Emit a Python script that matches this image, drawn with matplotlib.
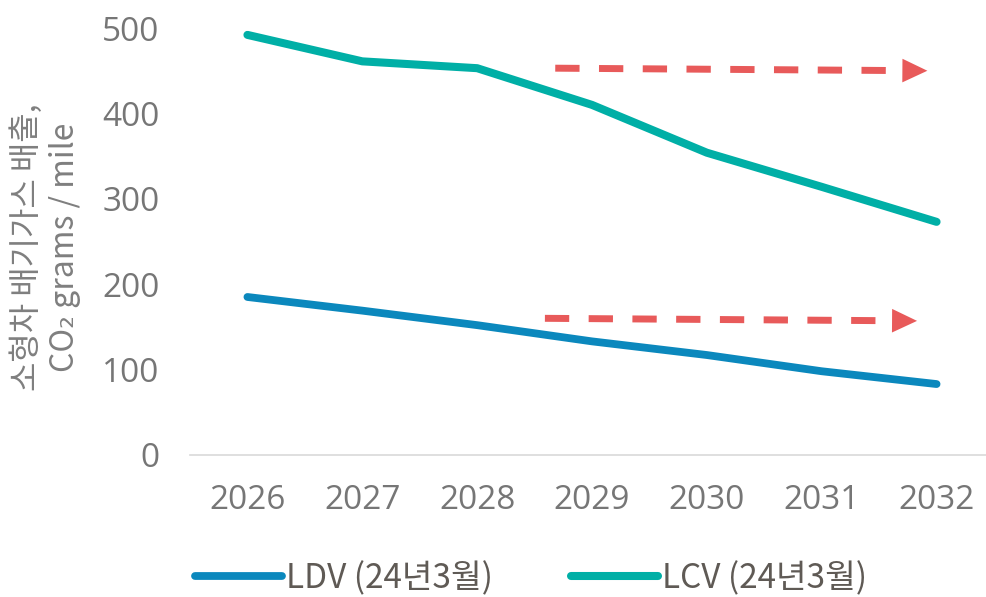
import numpy as np
import matplotlib.pyplot as plt

plt.rcParams['font.family'] = ['Noto Sans CJK KR', 'DejaVu Sans']

# data
years = [2026, 2027, 2028, 2029, 2030, 2031, 2032]
ldv = [185, 169, 152, 133, 117, 98, 83]
lcv = [492, 461, 453, 410, 354, 314, 273]
series_names = ['LDV (24년3월)', 'LCV (24년3월)']
series_colors = ['#0b88bd', '#00afa6']
yticks = [0, 100, 200, 300, 400, 500]

# dashed "stay flat" arrows: (x_start, y_start, x_tip, y_tip)
arrows = [(2028.68, 453, 2031.92, 450), (2028.59, 160, 2031.83, 157)]
arrow_color = '#e85a5a'

fig = plt.figure(figsize=(9.86, 5.97), dpi=100)
ax = fig.add_axes([190 / 986, 0.238, 804 / 986, 0.715])

x = np.arange(len(years))
x0 = years[0]
ax.plot(x, ldv, color=series_colors[0], lw=5.6, solid_capstyle='round',
        label=series_names[0], clip_on=False)
ax.plot(x, lcv, color=series_colors[1], lw=5.8, solid_capstyle='round',
        label=series_names[1], clip_on=False)

head = 0.2  # head length in data units
for xs, ys, xt, yt in arrows:
    xb = xt - head
    yb = yt + head * (ys - yt) / (xt - xs)
    ax.plot([xs - x0, xb - x0 - 0.02], [ys, yb], color=arrow_color, lw=5,
            linestyle=(0, (3.5, 2.8)), dash_capstyle='butt')
    ax.annotate('', xy=(xt - x0, yt), xytext=(xb - x0, yb),
                arrowprops=dict(arrowstyle='-|>,head_length=1.8,head_width=0.85',
                                color=arrow_color, lw=0, shrinkA=0, shrinkB=0))

ax.set_xlim(-0.5, len(years) - 0.5)
ax.set_ylim(0, 500)
ax.set_xticks(x)
ax.set_xticklabels([str(y) for y in years])
ax.set_yticks(yticks)
ax.tick_params(axis='both', length=0, labelsize=24, labelcolor='#767676')
ax.tick_params(axis='x', pad=21)
ax.tick_params(axis='y', pad=22)
for lab in ax.get_xticklabels() + ax.get_yticklabels():
    lab.set_family(['Open Sans', 'DejaVu Sans'])

for s in ['top', 'right', 'left']:
    ax.spines[s].set_visible(False)
ax.spines['bottom'].set_color('#d9d9d9')
ax.spines['bottom'].set_linewidth(1.2)

fig.text(0.046, 0.586, '소형차 배기가스 배출,\nCO₂ grams / mile', rotation=90,
         ha='center', va='center', fontsize=23, color='#7f7f7f',
         linespacing=1.25)

leg = fig.legend(loc='center left', bbox_to_anchor=(195 / 986, 0.031), ncol=2,
                 frameon=False, fontsize=24, handlelength=2.6,
                 handletextpad=0.12, columnspacing=2.36,
                 borderaxespad=0, borderpad=0)
for t in leg.get_texts():
    t.set_color('#5f5a55')

fig.savefig('out.png', dpi=100)
